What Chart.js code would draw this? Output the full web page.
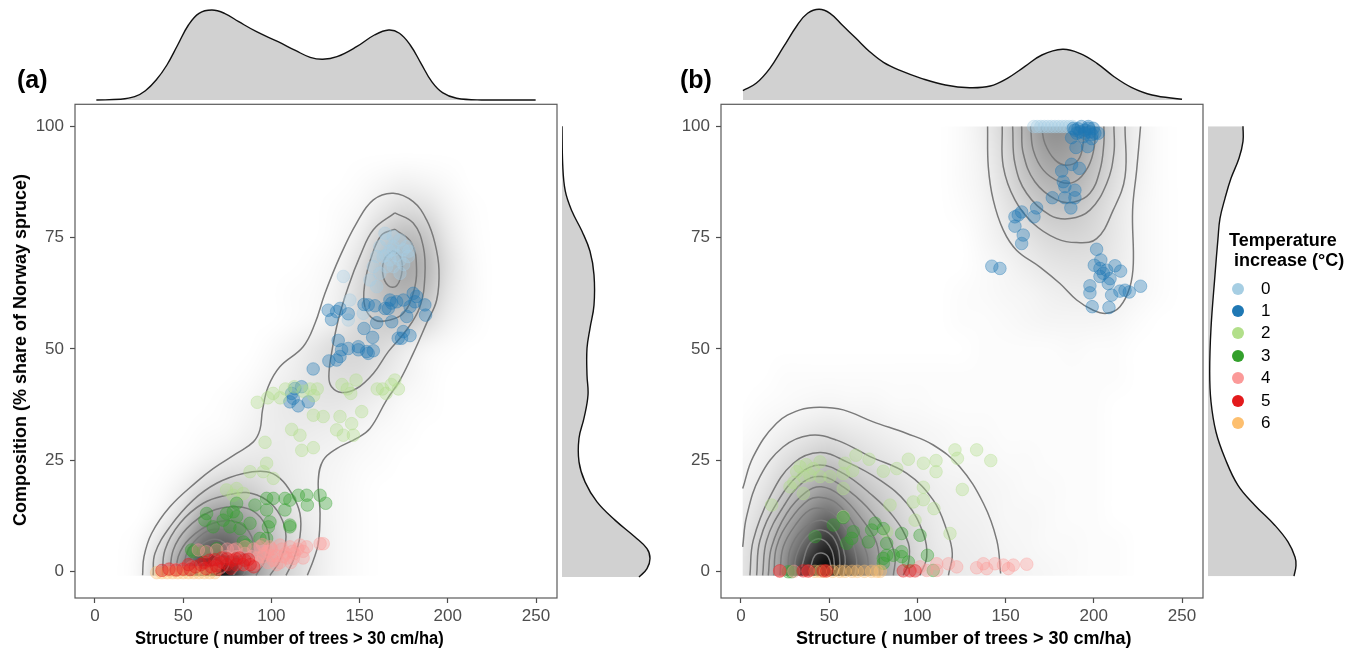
<!DOCTYPE html>
<html>
<head>
<meta charset="utf-8">
<script src="https://cdn.jsdelivr.net/npm/chart.js@4"></script>
<style>
  html, body { margin: 0; padding: 0; background: #fff; }
  body { width: 1357px; height: 648px; position: relative; overflow: hidden; font-family: "Liberation Sans", Arial, sans-serif; }
  canvas { position: absolute; }
  .txt { position: absolute; white-space: pre; color: #000; font-weight: bold; }
  .xname { font-size: 18px; top: 629px; line-height: 18px; }
  .leg { position: absolute; font-size: 17px; left: 1261px; line-height: 18px; color: #000; }
  .dot { position: absolute; left: 1232px; width: 12px; height: 12px; border-radius: 50%; }
</style>
</head>
<body>
<canvas id="mainA" width="570" height="551" style="left:0;top:97px"></canvas>
<canvas id="topA" width="482" height="102" style="left:75px;top:0"></canvas>
<canvas id="rightA" width="100" height="494" style="left:562px;top:104px"></canvas>
<canvas id="mainB" width="555" height="551" style="left:660px;top:97px"></canvas>
<canvas id="topB" width="482" height="102" style="left:721px;top:0"></canvas>
<canvas id="rightB" width="100" height="494" style="left:1208px;top:104px"></canvas>

<div class="txt" style="left:17px;top:66px;font-size:25px;line-height:26px">(a)</div>
<div class="txt" style="left:680px;top:66px;font-size:25px;line-height:26px">(b)</div>
<div class="txt xname" style="left:135px;transform-origin:0 0;transform:scaleX(.92)">Structure ( number of trees &gt; 30 cm/ha)</div>
<div class="txt xname" style="left:796px">Structure ( number of trees &gt; 30 cm/ha)</div>
<div class="txt" id="yname" style="left:20px;top:350px;font-size:18px;line-height:18px;transform:translate(-50%,-50%) rotate(-90deg)">Composition (% share of Norway spruce)</div>
<div class="txt" style="left:1229px;top:230px;font-size:18px;line-height:20px">Temperature
 increase (°C)</div>
<div id="legend"></div>

<script>
const tempLabels = ['0', '1', '2', '3', '4', '5', '6']
const tempColors = ['166,206,227', '31,120,180', '178,223,138', '51,160,44', '251,154,153', '227,26,28', '253,191,111']
const tempOrder = [6, 5, 4, 3, 2, 0, 1]
const xTicks = [0, 50, 100, 150, 200, 250]
const yTicks = [0, 25, 50, 75, 100]

// scatter points, panel (a), [structure, composition]
const tempA0 = [[165.3,74.5],[169.1,75.3],[172.9,74.5],[176.7,73],[177.6,70.8],[161.5,73],[159.7,70.8],[157.8,68.5],[163.4,70.8],[169.1,72.3],[172.9,70],[169.1,68.5],[165.3,68.5],[161.5,67],[155.9,65.5],[159.7,64],[164.4,76],[140.8,66.3],[144.5,61],[152.1,58],[143.6,56.5],[169.1,73],[174.8,72.3],[167.2,70],[172.9,67],[167,72],[171,71],[175,69],[165,71],[178,72]]
const tempA1 = [[132.2,58.7],[134.1,56.6],[137,58.4],[138.9,59.1],[143.6,57.9],[152.5,60],[154.9,59.9],[158.7,59.7],[152.5,54.6],[159.7,55.9],[157.4,52.6],[137.9,51.9],[139.8,49.8],[143.6,50.1],[149.3,50.5],[149.3,49.8],[154,49.4],[157.8,49.6],[154.9,49],[138.9,48.3],[137,47.5],[132.6,47.3],[123.7,45.5],[113.3,41.1],[111.5,40],[117.1,41.5],[120.9,38.1],[115.2,37.2],[110.5,38.1],[112.4,38.9],[167.2,61],[168.2,60.3],[166.3,59.1],[164.4,59.1],[171,60.6],[174.8,61],[180.4,62.5],[181.4,60.6],[178.6,59.5],[176.7,57.3],[168.2,56.1],[187,59.9],[187.4,57.6],[182.3,61.8],[174.8,53.9],[178.6,53],[173.8,52.4],[171.9,52.4]]
const tempA2 = [[92,38],[98,39],[101,40],[105,39],[108,41],[113,41.5],[118,40.5],[122,41],[126,41],[124,39.5],[140,42],[143,41],[145,40],[148,43],[160,41],[163,41],[165,40],[168,42],[172,41],[170,43],[96.4,29],[111.5,31.9],[116.2,30.6],[117.2,27.2],[123.8,27.8],[97.3,24.3],[87.9,22.4],[101.1,20.9],[95.4,22.4],[74.6,18.3],[80.3,18.6],[84.1,17.5],[78.4,17.1],[123.8,35.1],[129.4,34.8],[137,31.8],[140.8,30.6],[146.5,30.6],[145.5,33.2],[138.9,34.8],[151.2,35.9]]
const tempA3 = [[63.3,13],[62.3,11.5],[67,10],[74.6,13],[78.4,13.4],[80.3,15.3],[90.7,14.9],[97.3,16.4],[101.1,16.4],[97.3,13.8],[107.7,16.4],[110.5,16],[107.7,13.8],[115.3,17.1],[120,17.1],[120.4,14.9],[127.6,17.1],[130.8,15.3],[99.2,11.1],[98.3,10],[110.5,10.4],[110.5,10],[93.5,7.4],[97.3,7.4],[84.1,6.6],[86,5.9],[69,5.1],[55.7,4.4],[76.5,10],[82.2,9.6],[87.9,10.8],[80.3,12.3],[72.7,11.5],[54.8,4.8],[61.4,4.4]]
const tempA4 = [[127.6,6.2],[129.4,6.2],[116.2,5.9],[110.5,5.5],[112,4.5],[104.9,5.9],[99.2,5.5],[93.5,5.5],[88.8,3.3],[95.4,3.3],[101,2.5],[106.8,3.3],[112.4,2.9],[80.3,3.3],[74.6,3.3],[69,4.8],[63.3,4.4],[58.6,4.8],[78.4,4.8],[68,1],[61.4,0.6],[42.5,0.3],[85,1.5],[90,1.5],[100,3.5],[103,1.5],[108,4],[96,4],[85,4],[75,5],[70,2],[55,1],[50,0.5],[46,0.4],[90,5],[92,3],[95,6],[98,2],[100,5],[103,3.5],[106,5],[109,3],[111,2],[113,4],[115,5],[118,4.5],[120,5.5],[118,3],[105,2],[98,4.5],[92,2],[80,5],[85,5.5]]
const tempA5 = [[38,0.2],[42,0.5],[46,0.3],[50,0.5],[54,0.4],[57,1],[60,1.5],[63,0.6],[66,1],[69,1.2],[72,2],[75,1.5],[78,2.5],[80,1.5],[82,3],[85,2.5],[87,2.7],[88,1.5],[90,1],[77,0.7],[70,0.5],[62,2],[53,1.5],[65,2.5],[68,2.6],[72,3],[75,2.8],[80,2.8],[84,1.5]]
const tempA6 = [[35,-0.3],[38,-0.3],[41,-0.3],[44,-0.3],[47,-0.3],[50,-0.3],[53,-0.3],[56,-0.3],[59,-0.3],[62,-0.3],[65,-0.3],[68,-0.3]]

// scatter points, panel (b)
const tempB0 = [[166,100],[168,100],[170,100],[172,100],[174,100],[176,100],[178,100],[180,100],[182,100],[184,100],[186,100],[188,100]]
const tempB1 = [[142.2,68.6],[146.8,68.1],[159.1,80.8],[155.3,79.7],[157.2,80.1],[155.3,77.6],[160,75.6],[159.1,73.7],[166.1,79.7],[167.6,81.7],[176.5,84],[183.6,84],[187,81.7],[189.3,85.7],[189.3,84],[183.6,86.5],[182.7,87.6],[181.8,90],[187.4,91.5],[191.8,90.6],[189.9,95.3],[187.4,97.5],[196.5,95.5],[201.6,72.4],[204,70],[200.3,68.8],[203.5,68.1],[207.3,67.7],[212,68.7],[215.2,67.5],[205.4,67],[203.5,66.3],[209.2,65.8],[208.2,64.7],[197.8,64.2],[197.8,62.6],[210.1,62.1],[214.8,63],[217.7,63.2],[220.1,62.8],[226.5,64.1],[199.1,59.5],[208.6,59.3],[189.3,99.2],[192.1,98.8],[195,99.2],[197.8,98.8],[200.6,98.5],[190.3,98.5],[194,97.7],[198.8,97.3],[202.5,98.5],[188.4,99.6],[196.9,100],[199.7,99.6],[191,99.5],[193,100],[195,98.5],[197,99.6],[199,98.2]]
const tempB2 = [[121.3,27.3],[122.7,25.4],[133.6,27.3],[141.6,24.9],[125.5,18.4],[110.6,24.9],[103.4,24.3],[94.9,25.2],[110.6,22.4],[103.4,18.9],[88.3,23.1],[80.7,22.5],[72.6,25.2],[65.2,26.1],[59,24.3],[63.3,22.6],[44.8,24.6],[41,23.1],[31.6,22.4],[35.4,21.3],[39.1,21.6],[44.8,21.3],[27.8,19],[35.4,17.5],[58,18.6],[17.4,14.9],[84.5,14.9],[97.7,15.6],[103.4,16.1],[109.4,14.1],[98.7,11.5],[118.5,8.5],[58,12.3],[82.6,8.9],[50.5,21.3],[58,22],[33.5,23.5],[37,24],[30,20]]
const tempB3 = [[58,12.1],[52.4,10.4],[42,7.8],[60,6.3],[63.7,8.9],[62.8,7.4],[76,10.8],[74.1,9.3],[80.7,9.6],[91.1,8.5],[101.5,8.1],[82.6,6.3],[82.6,3.6],[80.7,2.9],[86.4,3.6],[91.1,4.4],[91.1,3.3],[94.9,2.1],[105.7,3.6],[72.2,6.6],[80.7,1.8],[26.8,-0.1],[28.7,-0.1],[109,0.2]]
const tempB4 = [[22,0],[30,0],[38,0],[101.5,1],[111,1.7],[117.6,1.7],[122.3,1],[133.6,0.8],[137.4,1.7],[139.3,0.6],[144,1.7],[148.8,1.4],[151.6,0.6],[154.4,1.4],[162,1.6],[105.3,0.2],[111,0.2]]
const tempB5 = [[92,0.1],[95.8,0.1],[98.7,0.1],[22,0.1],[35.3,0.1],[38.2,0.1],[46.7,0.1],[48.6,0.1]]
const tempB6 = [[45,0],[48,0],[52,0],[56,0],[59,0],[63,0],[66,0],[70,0],[74,0],[77,0],[79,0],[42,0]]

// contour lines, panel (a)
const contourA1 = [[27,-0.9],[27.8,3.3],[32.1,8.5],[42.5,14.5],[57.6,20.1],[67,23.1],[80.3,26.5],[89.8,29.1],[93.5,31.8],[95,36.3],[98.2,41.5],[104.8,46],[118,50.5],[124.7,55.7],[130.4,62.5],[138.9,70.8],[148.3,78.3],[157.8,83.5],[169.1,85],[180.4,83.1],[188,79],[192.7,73.8],[195,67.8],[193.7,61],[188,55.8],[180.4,49],[172.9,43],[165.3,38.5],[155.9,32.1],[148.3,29.9],[137,27.6],[129.4,25],[126.6,20.5],[127.6,13],[126.6,6.3],[123.8,2.5],[120.4,-0.9]]
const contourA2 = [[33,-0.9],[34,4],[42.5,10],[55.7,16],[69,19.8],[84.1,22],[97.3,22.4],[104.9,20.9],[111.5,17.5],[116.2,13],[116.2,7.8],[112.4,2.5],[108.3,-0.9]]
const contourA3 = [[38.3,-0.9],[39.7,4.8],[48.2,10.8],[61.4,15.3],[74.6,17.1],[86,17.7],[97.3,16],[104.9,12.6],[108.3,7.8],[104.9,2.5],[99.2,-0.9]]
const contourA4 = [[42.5,-0.9],[44.4,4.8],[52,9.6],[65.2,13.4],[80.3,14.5],[91.6,13],[98.3,8.5],[97.3,3.3],[91.3,-0.9]]
const contourA5 = [[46.3,-0.9],[47.2,3.3],[53.8,7.4],[67,10.8],[80.3,11.1],[88.8,7.8],[88.8,3.3],[84.1,-0.9]]
const contourA6 = [[51,-0.9],[52,4],[61.4,8.5],[70.9,9.4],[80.3,7.8],[85,3.3],[78.4,-0.9]]
const contourA7 = [[55.4,-0.9],[54.8,2.5],[61.4,6.3],[70.9,7],[76.5,4],[74.6,0.3],[69,-0.9]]
const contourA8 = [[170,80.6],[157.8,76.8],[150.2,70.8],[143.6,64],[137.9,56.5],[134.1,49],[132.6,43.8],[134.1,41.5],[139.8,40.2],[148.3,41.1],[157.8,44.5],[166.3,49.4],[176.7,54.3],[184.2,59.5],[187,66.3],[186.1,73],[180.4,78.3],[170,80.6]]
const contourA9 = [[170,76.9],[162.5,75.6],[156.8,70.8],[153,64.8],[153,59.5],[158.7,56.5],[167.2,56.5],[174.8,58],[180.4,62.5],[182.3,67.8],[179.5,73.8],[170,76.9]]
const contourA10 = [[169.1,72.1],[164.4,70.4],[163.1,67],[166.3,64.2],[171,64.2],[174.2,67.8],[172.9,70.8],[169.1,72.1]]

// contour lines, panel (b)
const contourB1 = [[1,18.6],[7,25.8],[20.2,33.3],[33.5,36.3],[44.8,36.9],[58,36.3],[75,33.6],[94,31],[109,28.4],[124,23.5],[137.4,15.3],[145,7],[147.2,-0.5]]
const contourB2 = [[1,5.5],[3.2,12.3],[10.8,21.3],[24,28],[39.1,30.6],[54.3,29.5],[73.2,25.8],[94,22],[109,16],[116.6,9.3],[119.8,4],[117.6,-0.9]]
const contourB3 = [[5.1,-0.9],[7,7],[16.5,16.8],[29.7,24.3],[44.8,26.7],[60,24.6],[78.8,20.5],[94,15.3],[103.4,8.5],[105.3,3.3],[101.5,-0.9]]
const contourB4 = [[8.9,-0.9],[10.8,7],[20.2,15.3],[33.5,22],[44.8,23.9],[58,22],[73.2,17.5],[86.4,12.3],[94.9,6.3],[94.9,1.8],[92,-0.9]]
const contourB5 = [[12.3,-0.9],[14.6,7],[24,14.5],[35.4,20.1],[45.7,21.3],[58,19],[71.3,14.5],[82.6,8.5],[87.3,3.3],[86.4,-0.9]]
const contourB6 = [[15.5,-0.9],[17.4,5.5],[25.9,13],[37.2,17.9],[45.7,19],[56.1,17.1],[67.5,12.3],[76.9,6.3],[78.8,-0.9]]
const contourB7 = [[18.7,-0.9],[20.2,5.5],[27.8,11.5],[38.2,16],[45.7,16.6],[54.3,15.3],[63.7,10.8],[71.3,4],[72.2,-0.9]]
const contourB8 = [[22.1,-0.9],[24,5.5],[31.6,10.8],[39.1,13.8],[45.7,14.1],[53.3,12.6],[61.8,7.8],[65.6,2.5],[64.6,-0.9]]
const contourB9 = [[26.8,-0.9],[27.8,4.8],[35.4,9.6],[45.7,11.5],[53.3,9.3],[59,3.3],[58,-0.9]]
const contourB10 = [[30.6,-0.9],[31.2,3.3],[37.2,7.8],[45.7,9.3],[53.3,7],[56.1,1.8],[54.3,-0.9]]
const contourB11 = [[34.4,1],[39.1,6.3],[45.7,7.2],[51.4,4.8],[53.3,0.3]]
const contourB12 = [[39.5,1],[42,3.6],[45.7,4.1],[49.5,3.2],[51.4,0.3]]
const contourB13 = [[139.8,100],[140.2,91],[143,83.5],[148.7,76.7],[156.2,72.2],[169.5,68.4],[180.8,64.7],[190.3,61],[199.7,58.7],[207.3,58],[214.8,59.5],[220.5,64],[222.4,69.2],[222,81.2],[224.3,90.2],[226.5,100]]
const contourB14 = [[148.1,100],[148.7,91],[155.3,83.5],[165.7,78.2],[178.9,74.8],[190.3,73.9],[201.6,74.8],[211,81.2],[217.7,88.7],[217.7,100]]
const contourB15 = [[154,100],[155.3,91.7],[161.9,85],[175.1,80.1],[186.5,79.3],[197.8,81.2],[207.3,87.2],[211.4,94],[211.4,100]]
const contourB16 = [[159.1,100],[160,94],[166.6,87.6],[178.9,83.5],[188.4,83],[197.8,85],[203.5,90.2],[205.7,96.2],[205.7,100]]
const contourB17 = [[164.2,100],[165.7,94.7],[171.4,90.2],[180.8,87.6],[189.3,87.6],[196.9,91],[200.3,95.5],[200.6,100]]
const contourB18 = [[170.4,100],[172.3,96.2],[178,92.5],[184.6,91.3],[191.2,92.5],[194,96.2],[194.4,100]]

// marginal densities, heights in arbitrary units
const topAX = [0.8,14.4,22.5,28.6,34.7,40.8,46.9,53,59,66.3,73.4,81.5,91.6,103.8,113.9,122,129.1,137.2,148.3,158.4,166.5,172.6,178.7,184.8,190.9,197,205,219.2,249.8]
const topAH = [0,0.7,3.3,9.3,20,35,55,75,86.7,90,86.7,78.3,68.3,58.3,49.3,42.7,40.7,43.3,53.3,65,70,66.7,55,36.7,18.3,7.3,1.7,0,0]
const topBX = [1.1,8.6,16.4,24.2,32,37.8,44.3,50.5,57.4,65.2,73,80.8,90.5,102.2,115.9,129.6,141.3,151,160.8,170.6,182.3,192,201.8,211.5,221.3,233,250]
const topBH = [9.3,16.7,31.7,53.3,75,86.7,90.7,86.7,75,61.7,48.3,37.7,29.3,21.7,15,12.3,14,21.7,33.3,45,50.7,46.7,36.7,23.3,12.7,5,0.7]
const rightAY = [-1.3,0.6,2.9,5.1,7.7,11.5,15.6,20.1,24.6,29.9,34.4,39.6,44.1,50.1,54.6,59.8,66.6,71.9,76.4,80.9,85.4,91.4,100]
const rightAW = [77,85,88,85,73,53,35,23,17,17,22,26,25,25,28,32,32,28,20,10,3.3,0.7,0]
const rightBY = [-1.1,1.3,3.2,6.6,10.3,14.8,19.3,25.4,31.3,38.1,44.8,54.6,66.6,74.8,79.3,83.8,88.3,92.8,96.6,100]
const rightBW = [86,88,87,80,67,47,30,17,8,3,1.7,3,7,10,12,17,23,31,35,35]

// density raster: darkness 0-100, rows from composition 0 upward, columns every 12.5 trees
const densityStepX = 12.5
const densityStepY = 6.25
const densityA = [
  [0,0,3,20,45,85,90,45,25,15,8,3,1,0,0,0,0,0,0,0,0],
  [0,0,2,12,32,58,62,45,25,14,8,3,1,0,0,0,0,0,0,0,0],
  [0,0,0,4,15,36,42,33,20,11,6,3,1,0,0,0,0,0,0,0,0],
  [0,0,0,1,6,15,20,18,12,8,5,3,1,0,0,0,0,0,0,0,0],
  [0,0,0,0,1,4,7,9,9,7,5,4,2,1,0,0,0,0,0,0,0],
  [0,0,0,0,0,1,2,5,7,8,7,6,4,2,1,0,0,0,0,0,0],
  [0,0,0,0,0,0,1,3,7,9,10,10,8,5,2,1,0,0,0,0,0],
  [0,0,0,0,0,0,0,1,4,7,11,13,13,9,5,2,0,0,0,0,0],
  [0,0,0,0,0,0,0,0,2,5,10,15,16,14,8,3,1,0,0,0,0],
  [0,0,0,0,0,0,0,0,0,1,3,7,15,20,21,15,6,2,0,0,0],
  [0,0,0,0,0,0,0,0,0,1,2,6,15,25,30,25,10,3,0,0,0],
  [0,0,0,0,0,0,0,0,0,0,1,4,12,26,35,29,12,3,0,0,0],
  [0,0,0,0,0,0,0,0,0,0,0,2,7,19,27,23,9,2,0,0,0],
  [0,0,0,0,0,0,0,0,0,0,0,1,3,9,14,12,5,1,0,0,0],
  [0,0,0,0,0,0,0,0,0,0,0,0,1,3,5,4,2,0,0,0,0],
  [0,0,0,0,0,0,0,0,0,0,0,0,0,0,0,0,0,0,0,0,0],
  [0,0,0,0,0,0,0,0,0,0,0,0,0,0,0,0,0,0,0,0,0]
]
const densityB = [
  [10,22,45,85,100,72,45,28,15,10,8,7,5,4,3,2,1,1,0,0,0],
  [9,20,40,62,85,55,38,24,14,8,7,6,4,3,2,2,1,1,0,0,0],
  [7,15,30,46,58,42,28,18,11,7,6,5,3,3,2,1,1,0,0,0,0],
  [5,10,20,30,38,28,20,14,9,6,5,4,3,2,2,1,1,0,0,0,0],
  [3,6,12,18,22,17,12,9,6,4,3,3,2,2,1,1,1,0,0,0,0],
  [1,3,6,9,11,9,7,5,4,3,2,2,1,1,1,1,1,0,0,0,0],
  [0,1,2,3,4,3,3,2,2,1,1,1,1,1,1,1,1,0,0,0,0],
  [0,0,1,1,1,1,1,1,1,1,1,1,1,1,1,1,1,1,0,0,0],
  [0,0,0,0,0,0,0,0,0,0,0,1,1,1,1,2,1,1,0,0,0],
  [0,0,0,0,0,0,0,0,0,0,1,1,2,3,4,4,4,3,1,0,0],
  [0,0,0,0,0,0,0,0,0,0,1,2,3,4,6,7,7,6,3,1,0],
  [0,0,0,0,0,0,0,0,0,0,0,2,4,7,10,11,11,8,4,1,0],
  [0,0,0,0,0,0,0,0,0,0,0,3,7,11,15,16,14,9,4,1,0],
  [0,0,0,0,0,0,0,0,0,0,1,4,10,17,22,22,17,10,4,1,0],
  [0,0,0,0,0,0,0,0,0,0,2,5,13,23,30,30,22,12,5,1,0],
  [0,0,0,0,0,0,0,0,0,0,2,6,15,28,38,36,26,14,6,1,0],
  [0,0,0,0,0,0,0,0,0,0,2,7,17,32,44,42,30,15,6,1,0]
]

const pointsA = [tempA0, tempA1, tempA2, tempA3, tempA4, tempA5, tempA6]
const pointsB = [tempB0, tempB1, tempB2, tempB3, tempB4, tempB5, tempB6]
const contoursA = [contourA1, contourA2, contourA3, contourA4, contourA5, contourA6, contourA7, contourA8, contourA9, contourA10]
const contoursB = [contourB1, contourB2, contourB3, contourB4, contourB5, contourB6, contourB7, contourB8, contourB9, contourB10, contourB11, contourB12, contourB13, contourB14, contourB15, contourB16, contourB17, contourB18]

const xMin = -11.3, xMax = 261.9, yMin = -6, yMax = 105

// paints the density grid through the scales, browser smoothing blends the cells
const densityPlugin = {
  id: 'density',
  beforeDatasetsDraw(chart, args, opts) {
    const rows = opts.rows
    const nx = rows[0].length, ny = rows.length
    const off = document.createElement('canvas')
    off.width = nx
    off.height = ny
    const octx = off.getContext('2d')
    const img = octx.createImageData(nx, ny)
    rows.forEach((row, j) => row.forEach((v, i) => {
      const k = ((ny - 1 - j) * nx + i) * 4
      const g = Math.round(255 * (1 - v / 100))
      img.data[k] = g
      img.data[k + 1] = g
      img.data[k + 2] = g
      img.data[k + 3] = 255
    }))
    octx.putImageData(img, 0, 0)

    const { x, y } = chart.scales
    const ctx = chart.ctx
    ctx.save()
    ctx.beginPath()
    ctx.rect(x.getPixelForValue(opts.clipLeft), y.getPixelForValue(100), x.getPixelForValue(250) - x.getPixelForValue(opts.clipLeft), y.getPixelForValue(-1) - y.getPixelForValue(100))
    ctx.clip()
    ctx.imageSmoothingEnabled = true
    ctx.imageSmoothingQuality = 'high'
    const left = x.getPixelForValue(-densityStepX / 2)
    const right = x.getPixelForValue(250 + densityStepX / 2)
    const top = y.getPixelForValue(100 + densityStepY / 2)
    const bottom = y.getPixelForValue(-densityStepY / 2)
    ctx.globalCompositeOperation = 'multiply'
    ctx.drawImage(off, left, top, right - left, bottom - top)
    ctx.restore()
  }
}

const boxPlugin = {
  id: 'box',
  afterDatasetsDraw(chart) {
    const a = chart.chartArea
    const ctx = chart.ctx
    ctx.save()
    ctx.strokeStyle = '#5a5a5a'
    ctx.lineWidth = 1.2
    ctx.strokeRect(a.left, a.top, a.right - a.left, a.bottom - a.top)
    ctx.restore()
  }
}

function toXY(pairs) {
  return pairs.map(p => ({ x: p[0], y: p[1] }))
}

function mainChart(id, points, contours, rows, clipLeft, axisWidth, rightPad) {
  const datasets = []
  contours.forEach(c => {
    datasets.push({
      type: 'scatter',
      data: toXY(c),
      showLine: true,
      tension: 0.4,
      pointRadius: 0,
      borderColor: '#7a7a7a',
      borderWidth: 1.5,
      order: 10
    })
  })
  points.forEach((p, t) => {
    datasets.push({
      type: 'scatter',
      label: tempLabels[t],
      data: toXY(p),
      pointRadius: 6.3,
      pointBackgroundColor: `rgba(${tempColors[t]},0.36)`,
      pointBorderColor: `rgba(${tempColors[t]},0.36)`,
      pointBorderWidth: 1,
      order: tempOrder[t]
    })
  })
  return new Chart(document.getElementById(id), {
    type: 'scatter',
    data: { datasets },
    plugins: [densityPlugin, boxPlugin],
    options: {
      responsive: false,
      animation: false,
      layout: { padding: { top: 0, right: rightPad, left: 0, bottom: 0 } },
      plugins: {
        legend: { display: false },
        tooltip: { enabled: false },
        density: { rows, clipLeft }
      },
      scales: {
        x: {
          type: 'linear',
          min: xMin,
          max: xMax,
          grid: { drawOnChartArea: false, tickLength: 5, color: '#4d4d4d', tickWidth: 1.2 },
          border: { display: false },
          afterBuildTicks: s => { s.ticks = xTicks.map(v => ({ value: v })) },
          afterFit: s => { s.height = 50; s.paddingLeft = 0; s.paddingRight = 0 },
          ticks: { color: '#4d4d4d', font: { size: 17, family: 'Liberation Sans' }, padding: 3, maxRotation: 0, autoSkip: false, callback: v => String(v) }
        },
        y: {
          type: 'linear',
          min: yMin,
          max: yMax,
          grid: { drawOnChartArea: false, tickLength: 5, color: '#4d4d4d', tickWidth: 1.2 },
          border: { display: false },
          afterBuildTicks: s => { s.ticks = yTicks.map(v => ({ value: v })) },
          afterFit: s => { s.width = axisWidth; s.paddingTop = 0; s.paddingBottom = 0 },
          ticks: { color: '#4d4d4d', font: { size: 17, family: 'Liberation Sans' }, padding: 6, autoSkip: false, callback: v => String(v) }
        }
      }
    }
  })
}

function marginalChart(id, values, other, vertical) {
  const data = values.map((v, i) => vertical ? { x: other[i], y: v } : { x: v, y: other[i] })
  const scales = vertical
    ? { x: { type: 'linear', min: 0, max: 100, display: false }, y: { type: 'linear', min: yMin, max: yMax, display: false } }
    : { x: { type: 'linear', min: xMin, max: xMax, display: false }, y: { type: 'linear', min: 0, max: 100, display: false } }
  return new Chart(document.getElementById(id), {
    type: 'line',
    data: {
      datasets: [{
        data,
        fill: 'origin',
        backgroundColor: '#d1d1d1',
        borderColor: '#111',
        borderWidth: 1.4,
        tension: 0.4,
        pointRadius: 0,
        clip: false
      }]
    },
    options: {
      indexAxis: vertical ? 'y' : 'x',
      responsive: false,
      animation: false,
      layout: { padding: vertical ? 0 : { bottom: 2 } },
      plugins: { legend: { display: false }, tooltip: { enabled: false } },
      scales
    }
  })
}

mainChart('mainA', pointsA, contoursA, densityA, -1, 75, 13)
mainChart('mainB', pointsB, contoursB, densityB, 1, 61, 12)
marginalChart('topA', topAX, topAH, false)
marginalChart('topB', topBX, topBH, false)
marginalChart('rightA', rightAY, rightAW, true)
marginalChart('rightB', rightBY, rightBW, true)

const legend = document.getElementById('legend')
tempLabels.forEach((t, i) => {
  const y = 288.5 + i * 22.4
  legend.insertAdjacentHTML('beforeend',
    `<div class="dot" style="top:${y - 6}px;background:rgb(${tempColors[i]})"></div><div class="leg" style="top:${y - 9}px">${t}</div>`)
})
</script>
</body>
</html>
